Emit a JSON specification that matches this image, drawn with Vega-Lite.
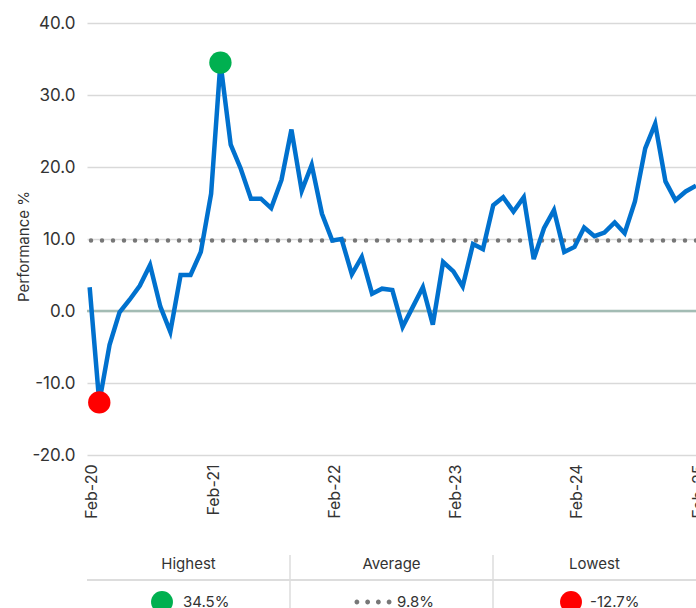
{
  "$schema": "https://vega.github.io/schema/vega-lite/v6.json",
  "background": "white",
  "padding": {"left": 16, "top": 14, "right": 0, "bottom": 0},
  "config": {
    "font": "Inter",
    "view": {"stroke": null},
    "concat": {"spacing": 35},
    "axis": {"labelColor": "#333333", "titleColor": "#333333"}
  },
  "datasets": {
    "perf": [
      {"date": "2020-02-01", "value": 3.3},
      {"date": "2020-03-01", "value": -12.7},
      {"date": "2020-04-01", "value": -4.7},
      {"date": "2020-05-01", "value": -0.2},
      {"date": "2020-06-01", "value": 1.6},
      {"date": "2020-07-01", "value": 3.5},
      {"date": "2020-08-01", "value": 6.4},
      {"date": "2020-09-01", "value": 0.6},
      {"date": "2020-10-01", "value": -2.9},
      {"date": "2020-11-01", "value": 5.0},
      {"date": "2020-12-01", "value": 5.0},
      {"date": "2021-01-01", "value": 8.2},
      {"date": "2021-02-01", "value": 16.3},
      {"date": "2021-03-01", "value": 34.5},
      {"date": "2021-04-01", "value": 23.1},
      {"date": "2021-05-01", "value": 19.8},
      {"date": "2021-06-01", "value": 15.6},
      {"date": "2021-07-01", "value": 15.6},
      {"date": "2021-08-01", "value": 14.3},
      {"date": "2021-09-01", "value": 18.2},
      {"date": "2021-10-01", "value": 25.2},
      {"date": "2021-11-01", "value": 16.7},
      {"date": "2021-12-01", "value": 20.3},
      {"date": "2022-01-01", "value": 13.5},
      {"date": "2022-02-01", "value": 9.8},
      {"date": "2022-03-01", "value": 10.0},
      {"date": "2022-04-01", "value": 5.1},
      {"date": "2022-05-01", "value": 7.5},
      {"date": "2022-06-01", "value": 2.4},
      {"date": "2022-07-01", "value": 3.1},
      {"date": "2022-08-01", "value": 2.9},
      {"date": "2022-09-01", "value": -2.2},
      {"date": "2022-10-01", "value": 0.5},
      {"date": "2022-11-01", "value": 3.3},
      {"date": "2022-12-01", "value": -1.9},
      {"date": "2023-01-01", "value": 6.8},
      {"date": "2023-02-01", "value": 5.5},
      {"date": "2023-03-01", "value": 3.4},
      {"date": "2023-04-01", "value": 9.3},
      {"date": "2023-05-01", "value": 8.6},
      {"date": "2023-06-01", "value": 14.7},
      {"date": "2023-07-01", "value": 15.8},
      {"date": "2023-08-01", "value": 13.8},
      {"date": "2023-09-01", "value": 15.8},
      {"date": "2023-10-01", "value": 7.2},
      {"date": "2023-11-01", "value": 11.5},
      {"date": "2023-12-01", "value": 14.0},
      {"date": "2024-01-01", "value": 8.2},
      {"date": "2024-02-01", "value": 8.9},
      {"date": "2024-03-01", "value": 11.6},
      {"date": "2024-04-01", "value": 10.4},
      {"date": "2024-05-01", "value": 10.9},
      {"date": "2024-06-01", "value": 12.3},
      {"date": "2024-07-01", "value": 10.8},
      {"date": "2024-08-01", "value": 15.2},
      {"date": "2024-09-01", "value": 22.6},
      {"date": "2024-10-01", "value": 26.0},
      {"date": "2024-11-01", "value": 18.0},
      {"date": "2024-12-01", "value": 15.4},
      {"date": "2025-01-01", "value": 16.6},
      {"date": "2025-02-01", "value": 17.4}
    ],
    "extremes": [
      {"date": "2021-03-01", "value": 34.5, "kind": "Highest"},
      {"date": "2020-03-01", "value": -12.7, "kind": "Lowest"}
    ],
    "refs": [
      {"kind": "Average", "value": 9.8}
    ],
    "tbl": [
      {"col": "Highest", "row": "header", "text": "Highest"},
      {"col": "Average", "row": "header", "text": "Average"},
      {"col": "Lowest", "row": "header", "text": "Lowest"},
      {"col": "Highest", "row": "value", "text": "34.5%"},
      {"col": "Average", "row": "value", "text": "9.8%"},
      {"col": "Lowest", "row": "value", "text": "-12.7%"}
    ]
  },
  "vconcat": [
    {
      "width": 609,
      "height": 432,
      "layer": [
        {
          "data": {"name": "refs"},
          "mark": {"type": "rule", "color": "#a3bcb4", "strokeWidth": 2.5},
          "encoding": {
            "y": {
              "datum": 0, "type": "quantitative",
              "scale": {"domain": [-20, 40], "nice": false, "zero": false},
              "axis": {"values": [-20, -10, 0, 10, 20, 30, 40], "labelExpr": "datum.value < 0 ? '-' + format(abs(datum.value), '.1f') : format(datum.value, '.1f')", "title": "Performance %", "grid": true, "gridColor": "#d9d9d9", "gridWidth": 1.5, "ticks": false, "tickSize": 0, "domain": false, "labelFontSize": 17, "labelPadding": 12, "titleFontSize": 15, "titleFontWeight": "normal", "titlePadding": 0, "titleY": 223}
            }
          }
        },
        {
          "data": {"name": "refs"},
          "mark": {"type": "rule", "color": "#777777", "strokeWidth": 4.5, "strokeDash": [0, 11], "strokeCap": "round"},
          "encoding": {
            "y": {
              "field": "value", "type": "quantitative",
              "scale": {"domain": [-20, 40], "nice": false, "zero": false},
              "axis": {"values": [-20, -10, 0, 10, 20, 30, 40], "labelExpr": "datum.value < 0 ? '-' + format(abs(datum.value), '.1f') : format(datum.value, '.1f')", "title": "Performance %", "grid": true, "gridColor": "#d9d9d9", "gridWidth": 1.5, "ticks": false, "tickSize": 0, "domain": false, "labelFontSize": 17, "labelPadding": 12, "titleFontSize": 15, "titleFontWeight": "normal", "titlePadding": 0, "titleY": 223}
            }
          }
        },
        {
          "data": {"name": "perf"},
          "mark": {"type": "line", "color": "#0071ce", "strokeWidth": 4.5},
          "encoding": {
            "x": {
              "field": "date", "type": "temporal",
              "scale": {"type": "utc", "domain": [{"year": 2020, "month": 1, "date": 24, "utc": true}, {"year": 2025, "month": 2, "date": 1, "utc": true}]},
              "axis": {"values": [{"year": 2020, "month": 2, "date": 1, "utc": true}, {"year": 2021, "month": 2, "date": 1, "utc": true}, {"year": 2022, "month": 2, "date": 1, "utc": true}, {"year": 2023, "month": 2, "date": 1, "utc": true}, {"year": 2024, "month": 2, "date": 1, "utc": true}, {"year": 2025, "month": 2, "date": 1, "utc": true}], "labelExpr": "utcFormat(datum.value, '%b-%y')", "labelAngle": -90, "labelFontSize": 16, "labelPadding": 9, "labelOffset": 2, "grid": false, "ticks": false, "tickSize": 0, "domain": false, "title": null, "labelOverlap": false, "labelBound": false, "labelFlush": false}
            },
            "y": {
              "field": "value", "type": "quantitative",
              "scale": {"domain": [-20, 40], "nice": false, "zero": false},
              "axis": {"values": [-20, -10, 0, 10, 20, 30, 40], "labelExpr": "datum.value < 0 ? '-' + format(abs(datum.value), '.1f') : format(datum.value, '.1f')", "title": "Performance %", "grid": true, "gridColor": "#d9d9d9", "gridWidth": 1.5, "ticks": false, "tickSize": 0, "domain": false, "labelFontSize": 17, "labelPadding": 12, "titleFontSize": 15, "titleFontWeight": "normal", "titlePadding": 0, "titleY": 223}
            }
          }
        },
        {
          "data": {"name": "extremes"},
          "mark": {"type": "circle", "size": 500, "opacity": 1},
          "encoding": {
            "x": {"field": "date", "type": "temporal"},
            "y": {"field": "value", "type": "quantitative"},
            "color": {"field": "kind", "type": "nominal", "scale": {"domain": ["Highest", "Lowest"], "range": ["#00b050", "#ff0000"]}, "legend": null}
          }
        }
      ]
    },
    {
      "width": 609,
      "height": 55,
      "data": {"name": "tbl"},
      "layer": [
        {
          "transform": [{"filter": "datum.row == 'header' && datum.col != 'Highest'"}],
          "mark": {"type": "rule", "color": "#dddddd", "strokeWidth": 1.5},
          "encoding": {
            "x": {"field": "col", "type": "nominal", "bandPosition": 0, "scale": {"domain": ["Highest", "Average", "Lowest"], "paddingInner": 0, "paddingOuter": 0}, "axis": null}
          }
        },
        {
          "transform": [{"filter": "datum.row == 'value' && datum.col == 'Highest'"}],
          "mark": {"type": "rule", "color": "#dddddd", "strokeWidth": 2},
          "encoding": {
            "y": {"field": "row", "type": "nominal", "bandPosition": 0, "scale": {"domain": ["header", "value"], "paddingInner": 0, "paddingOuter": 0.1, "align": 0}, "axis": null}
          }
        },
        {
          "transform": [{"filter": "datum.row == 'header'"}],
          "mark": {"type": "text", "fontSize": 15, "color": "#333333", "dy": -3.5},
          "encoding": {
            "x": {"field": "col", "type": "nominal", "axis": null},
            "y": {"field": "row", "type": "nominal", "axis": null},
            "text": {"field": "text"}
          }
        },
        {
          "transform": [{"filter": "datum.row == 'value' && datum.col == 'Highest'"}],
          "mark": {"type": "text", "fontSize": 15, "color": "#333333", "align": "left", "dx": -5.5, "dy": 9.5},
          "encoding": {
            "x": {"field": "col", "type": "nominal", "axis": null},
            "y": {"field": "row", "type": "nominal", "axis": null},
            "text": {"field": "text"}
          }
        },
        {
          "transform": [{"filter": "datum.row == 'value' && datum.col == 'Average'"}],
          "mark": {"type": "text", "fontSize": 15, "color": "#333333", "align": "left", "dx": 5.5, "dy": 9.5},
          "encoding": {
            "x": {"field": "col", "type": "nominal", "axis": null},
            "y": {"field": "row", "type": "nominal", "axis": null},
            "text": {"field": "text"}
          }
        },
        {
          "transform": [{"filter": "datum.row == 'value' && datum.col == 'Lowest'"}],
          "mark": {"type": "text", "fontSize": 15, "color": "#333333", "align": "left", "dx": -4.5, "dy": 9.5},
          "encoding": {
            "x": {"field": "col", "type": "nominal", "axis": null},
            "y": {"field": "row", "type": "nominal", "axis": null},
            "text": {"field": "text"}
          }
        },
        {
          "transform": [{"filter": "datum.row == 'value' && datum.col == 'Highest'"}],
          "mark": {"type": "circle", "size": 480, "opacity": 1, "color": "#00b050", "xOffset": -26.5, "yOffset": 9.5},
          "encoding": {
            "x": {"field": "col", "type": "nominal", "axis": null},
            "y": {"field": "row", "type": "nominal", "axis": null}
          }
        },
        {
          "transform": [{"filter": "datum.row == 'value' && datum.col == 'Lowest'"}],
          "mark": {"type": "circle", "size": 480, "opacity": 1, "color": "#ff0000", "xOffset": -23.5, "yOffset": 9.5},
          "encoding": {
            "x": {"field": "col", "type": "nominal", "axis": null},
            "y": {"field": "row", "type": "nominal", "axis": null}
          }
        },
        {
          "transform": [{"filter": "datum.row == 'value' && datum.col == 'Average'"}],
          "mark": {"type": "point", "filled": true, "opacity": 1, "color": "#777777", "strokeWidth": 0, "size": 1369, "xOffset": -18.5, "yOffset": 9.5, "shape": "M-1,0a0.13,0.13 0 1,0 0.26,0a0.13,0.13 0 1,0 -0.26,0Z M-0.42,0a0.13,0.13 0 1,0 0.26,0a0.13,0.13 0 1,0 -0.26,0Z M0.16,0a0.13,0.13 0 1,0 0.26,0a0.13,0.13 0 1,0 -0.26,0Z M0.74,0a0.13,0.13 0 1,0 0.26,0a0.13,0.13 0 1,0 -0.26,0Z"},
          "encoding": {
            "x": {"field": "col", "type": "nominal", "axis": null},
            "y": {"field": "row", "type": "nominal", "axis": null}
          }
        }
      ]
    }
  ]
}
